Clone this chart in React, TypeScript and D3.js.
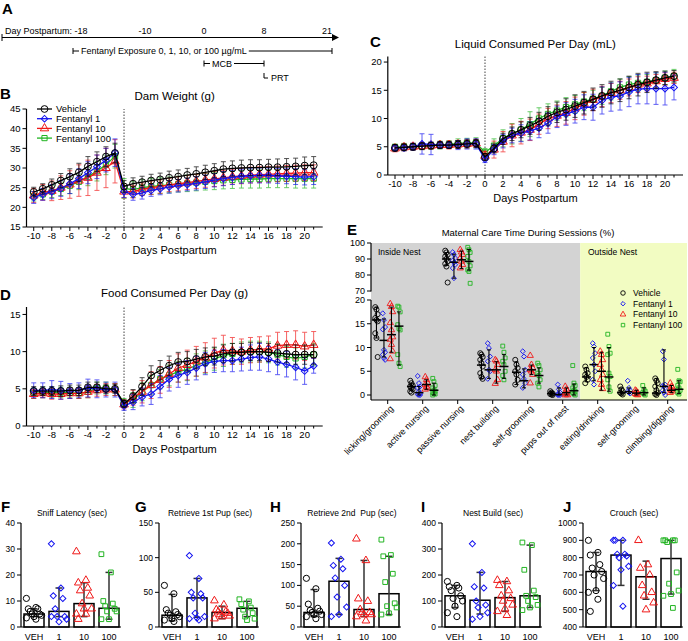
import React, { useLayoutEffect, useRef, useState } from 'react';
import * as d3 from 'd3';

const FONT = '"Liberation Sans", Arial, Helvetica, sans-serif';

// ---------- shared ----------
const groups = ['Vehicle', 'Fentanyl 1', 'Fentanyl 10', 'Fentanyl 100'];
const groupColors = ['#000000', '#1414f0', '#f01818', '#22b422'];
// diamond is drawn as a square rotated by 45 degrees
const groupSymbols = [d3.symbolCircle, d3.symbolSquare, d3.symbolTriangle, d3.symbolSquare];

// ---------- A: timeline ----------
const timelineDays = [-18, -10, 0, 8, 21];

// ---------- B, C, D: time courses ----------
const preDays = [-10, -9, -8, -7, -6, -5, -4, -3, -2, -1];
const postDays = [0, 1, 2, 3, 4, 5, 6, 7, 8, 9, 10, 11, 12, 13, 14, 15, 16, 17, 18, 19, 20, 21];
const days = [...preDays, ...postDays];
const dayTickLabels = [-10, -8, -6, -4, -2, 0, 2, 4, 6, 8, 10, 12, 14, 16, 18, 20];

const weightVehicle = [23.9, 24.7, 25.7, 26.8, 27.8, 28.9, 30.4, 31.6, 32.9, 33.8, 25.3, 26.0, 26.4, 26.8, 27.1, 27.5, 27.8, 28.2, 28.5, 28.9, 29.3, 29.7, 29.9, 30.0, 30.1, 30.1, 30.2, 30.2, 30.3, 30.4, 30.6, 30.7];
const weightFent1 = [22.5, 23.3, 24.0, 24.8, 26.0, 27.3, 28.8, 30.3, 32.0, 33.9, 24.0, 23.3, 23.6, 24.3, 24.7, 25.2, 25.5, 25.8, 26.1, 26.5, 26.9, 27.3, 27.6, 27.9, 28.0, 28.1, 28.1, 28.0, 27.9, 27.8, 27.7, 27.8];
const weightFent10 = [23.0, 23.8, 24.2, 25.0, 25.8, 26.8, 27.5, 28.8, 30.0, 31.7, 24.0, 24.0, 24.6, 25.0, 25.3, 25.7, 26.0, 26.3, 26.6, 26.9, 27.2, 27.5, 27.8, 28.0, 28.2, 28.3, 28.4, 28.5, 28.6, 28.7, 28.8, 28.8];
const weightFent100 = [22.8, 23.3, 24.0, 24.7, 25.5, 26.5, 27.8, 29.2, 30.8, 33.0, 24.8, 24.5, 25.0, 25.3, 25.5, 25.7, 25.9, 26.1, 26.3, 26.5, 26.7, 26.9, 27.0, 27.1, 27.2, 27.2, 27.3, 27.3, 27.3, 27.3, 27.3, 27.3];
const weightSdVehicle = [1.2, 1.3, 1.5, 1.8, 2.0, 2.3, 2.5, 2.5, 2.5, 2.5, 1.5, 1.5, 1.5, 1.6, 1.6, 1.7, 1.7, 1.7, 1.8, 1.8, 1.8, 1.9, 1.9, 2.0, 2.0, 2.0, 2.0, 2.1, 2.1, 2.1, 2.2, 2.2];
const weightSdFent1 = [1.5, 1.5, 1.8, 2.0, 2.5, 2.5, 2.8, 3.0, 3.0, 3.5, 1.5, 1.5, 1.5, 1.5, 1.5, 1.6, 1.6, 1.6, 1.7, 1.7, 1.7, 1.8, 1.8, 1.8, 1.8, 1.9, 1.9, 1.9, 1.9, 2.0, 2.0, 2.0];
const weightSdFent10 = [1.8, 2.0, 2.5, 3.0, 3.5, 4.0, 4.5, 4.5, 5.0, 5.5, 1.6, 1.6, 1.6, 1.7, 1.7, 1.7, 1.8, 1.8, 1.8, 1.8, 1.9, 1.9, 1.9, 2.0, 2.0, 2.0, 2.0, 2.0, 2.0, 2.0, 2.0, 2.0];
const weightSdFent100 = [1.2, 1.3, 1.5, 1.7, 2.0, 2.0, 2.3, 2.5, 2.5, 3.0, 2.5, 2.0, 2.0, 2.0, 2.0, 2.0, 2.0, 2.1, 2.1, 2.1, 2.2, 2.2, 2.2, 2.2, 2.3, 2.3, 2.3, 2.3, 2.3, 2.4, 2.4, 2.4];

const liquidVehicle = [4.8, 4.9, 5.0, 5.1, 5.2, 5.3, 5.3, 5.4, 5.5, 5.6, 3.2, 4.7, 6.4, 7.3, 8.0, 8.7, 9.5, 10.4, 11.1, 11.6, 12.2, 12.8, 13.4, 14.0, 14.6, 15.0, 15.5, 16.0, 16.4, 16.8, 17.2, 17.5];
const liquidFent1 = [4.8, 4.8, 5.0, 5.5, 5.4, 5.3, 5.3, 5.3, 5.5, 5.5, 2.8, 4.5, 6.0, 7.0, 7.4, 7.8, 8.3, 9.2, 10.3, 10.8, 11.3, 12.0, 12.0, 13.2, 13.8, 14.0, 14.7, 15.2, 15.3, 15.3, 15.3, 15.5];
const liquidFent10 = [4.7, 4.9, 5.0, 5.1, 5.2, 5.3, 5.3, 5.4, 5.5, 5.6, 3.4, 4.5, 5.9, 7.0, 7.5, 8.0, 9.0, 10.0, 10.5, 11.0, 11.8, 12.6, 13.3, 13.9, 14.5, 15.0, 15.5, 16.0, 16.2, 16.6, 17.0, 17.2];
const liquidFent100 = [4.9, 5.0, 5.0, 5.1, 5.2, 5.3, 5.4, 5.6, 5.7, 5.7, 4.0, 5.2, 6.5, 7.3, 8.0, 9.0, 10.0, 10.8, 11.4, 12.0, 12.5, 13.0, 13.5, 14.0, 14.8, 15.5, 16.0, 16.3, 16.5, 16.8, 17.2, 17.5];
const liquidSdVehicle = [0.6, 0.6, 0.6, 0.6, 0.6, 0.6, 0.6, 0.7, 0.7, 0.7, 0.6, 0.8, 1.0, 1.2, 1.4, 1.5, 1.6, 1.7, 1.8, 1.9, 2.0, 2.0, 2.0, 2.0, 2.0, 2.0, 2.0, 2.0, 1.8, 1.5, 1.2, 1.0];
const liquidSdFent1 = [0.5, 0.5, 0.6, 1.8, 1.8, 0.6, 0.6, 0.8, 0.9, 0.9, 0.6, 0.9, 1.2, 1.3, 1.5, 1.6, 1.7, 1.8, 1.9, 2.0, 2.1, 2.2, 2.3, 2.4, 2.5, 2.5, 2.6, 2.6, 2.7, 2.8, 2.9, 2.2];
const liquidSdFent10 = [0.6, 0.6, 0.6, 0.6, 0.6, 0.6, 0.7, 0.7, 0.7, 0.7, 0.8, 1.5, 1.8, 2.0, 2.0, 1.9, 1.8, 1.8, 1.9, 2.0, 2.0, 2.0, 1.9, 1.8, 1.7, 1.6, 1.5, 1.4, 1.3, 1.2, 1.1, 1.0];
const liquidSdFent100 = [0.6, 0.6, 0.6, 0.6, 0.6, 0.7, 0.7, 0.8, 0.8, 0.9, 0.7, 1.2, 1.5, 1.8, 2.0, 2.2, 1.9, 1.8, 1.7, 1.7, 1.6, 1.6, 1.5, 1.5, 1.5, 1.5, 1.4, 1.4, 1.3, 1.3, 1.2, 1.2];

const foodVehicle = [4.7, 4.7, 4.7, 4.7, 4.8, 4.8, 5.2, 5.2, 5.0, 5.0, 3.0, 4.0, 5.3, 6.8, 7.5, 8.1, 8.6, 8.7, 9.0, 9.3, 9.4, 9.7, 9.9, 9.9, 10.0, 10.0, 9.9, 9.8, 9.7, 9.6, 9.6, 9.6];
const foodFent1 = [4.8, 4.8, 4.9, 4.8, 4.7, 4.8, 5.1, 5.0, 4.9, 4.9, 2.7, 3.2, 3.9, 4.3, 5.3, 6.3, 6.8, 7.2, 7.8, 8.4, 8.7, 8.8, 8.8, 9.0, 9.2, 9.3, 9.0, 8.6, 8.3, 7.9, 7.4, 8.1];
const foodFent10 = [4.3, 4.4, 4.3, 4.3, 4.4, 4.4, 4.6, 4.8, 4.9, 4.9, 2.9, 3.8, 4.6, 5.5, 6.2, 7.0, 7.8, 8.2, 8.7, 9.2, 9.8, 10.2, 10.1, 10.0, 10.2, 10.3, 10.4, 10.8, 10.9, 10.9, 10.7, 10.9];
const foodFent100 = [4.4, 4.5, 4.5, 4.5, 4.5, 4.4, 4.6, 5.1, 5.1, 4.9, 3.1, 3.5, 4.6, 5.5, 6.3, 6.8, 7.3, 7.6, 8.2, 8.6, 9.0, 9.5, 9.7, 9.9, 10.0, 10.0, 9.9, 9.6, 9.3, 9.1, 9.3, 9.6];
const foodSdVehicle = [0.6, 0.6, 0.6, 0.7, 0.7, 0.7, 0.7, 0.7, 0.6, 0.6, 0.5, 0.9, 1.2, 1.3, 1.3, 1.3, 1.3, 1.3, 1.3, 1.2, 1.2, 1.2, 1.2, 1.2, 1.2, 1.2, 1.2, 1.2, 1.2, 1.3, 1.3, 1.3];
const foodSdFent1 = [1.0, 1.0, 1.2, 1.2, 1.0, 1.0, 1.2, 1.2, 1.0, 1.0, 0.6, 1.0, 1.2, 1.4, 1.5, 1.6, 1.6, 1.6, 1.6, 1.5, 1.5, 1.5, 1.5, 1.6, 1.7, 1.8, 1.7, 1.7, 1.7, 1.7, 1.8, 1.0];
const foodSdFent10 = [0.6, 0.6, 0.7, 0.7, 0.7, 0.7, 0.8, 0.8, 0.8, 0.8, 0.6, 1.0, 1.5, 1.8, 1.8, 1.8, 1.9, 2.0, 2.0, 2.0, 2.0, 2.0, 1.8, 1.7, 1.7, 1.7, 1.7, 1.8, 1.8, 1.9, 1.9, 1.8];
const foodSdFent100 = [0.7, 0.7, 0.7, 0.7, 0.7, 0.7, 0.8, 0.8, 0.8, 0.8, 0.6, 1.0, 1.2, 1.3, 1.3, 1.4, 1.4, 1.5, 1.5, 1.5, 1.5, 1.5, 1.4, 1.4, 1.4, 1.4, 1.4, 1.4, 1.4, 1.4, 1.5, 1.5];

// ---------- E: maternal care ----------
const careCategories = ['licking/grooming', 'active nursing', 'passive nursing', 'nest building', 'self-grooming', 'pups out of nest', 'eating/drinking', 'self-grooming', 'climbing/digging'];
const careVehiclePoints = [
  [18.5, 18, 17, 16.2, 15.8, 15.5, 13, 12, 8],
  [3, 2.5, 2, 1.8, 1.5, 1.2, 0.8, 0.5],
  [95.2, 94.1, 92.7, 91.6, 90, 88.5, 87, 85.3, 75.3],
  [8.8, 8.5, 8, 7.4, 6.7, 6, 4.6, 3.8, 3.4],
  [7.4, 6.4, 5.7, 5, 4.3, 3.2, 2.2],
  [0.8, 0.5, 0.3, 0.2, 0.1, 0],
  [6, 5.3, 4.6, 4.3, 3.8, 3.2, 2.5],
  [1.8, 1.2, 0.8, 0.5, 0.3, 0.1],
  [3.5, 3, 2.5, 1.8, 1, 0.5, 0.2, 0],
];
const careVehicleStats = [[15.8, 12, 18.5], [1.8, 1, 2.5], [90, 86, 94], [6.3, 3.5, 8.5], [4.8, 2.2, 7], [0.3, 0, 0.8], [3.8, 2.8, 5.8], [0.5, 0, 1.5], [0.4, 0, 3.5]];
const careFent1Points = [
  [17.2, 15.8, 14.3, 13.8, 9.5, 9, 8.5, 7.8, 7.4],
  [4, 2.5, 1.8, 1.5, 0.8, 0.3, 0.1, 0, 0],
  [94.3, 92.7, 90.6, 89.1, 87.8, 86.4, 84.3, 78],
  [10.9, 9.9, 8.1, 7.1, 5.3, 5, 3.4],
  [9.2, 8.1, 5.3, 4.3, 3.4, 2.5, 1.5],
  [2.2, 1.2, 0.5, 0.2, 0, 0, 0],
  [10.9, 10.2, 8.8, 7.8, 6.4, 5, 3.2, 2.2],
  [3, 1.5, 1, 0.8, 0.5, 0.3],
  [9.2, 7.5, 2.2, 2, 1.8, 1.5, 1, 0.5, 0],
];
const careFent1Stats = [[11.5, 8, 16], [0.5, 0, 1.8], [88, 78, 93], [5.3, 3.5, 9.5], [3, 1.5, 5.5], [0.1, 0, 1.5], [6.4, 3, 10], [0.7, 0.3, 1.5], [1.8, 0.5, 9.5]];
const careFent10Points = [
  [19.2, 18.6, 17.5, 15.2, 13.7, 12.2, 11.7, 10.6, 9.2, 7.6],
  [3.8, 3.2, 2.5, 2.2, 1.8, 1.5, 1.2],
  [95.8, 94.3, 92.7, 90.6, 88.5, 86.4, 84.3],
  [7.4, 7.1, 6.4, 5.3, 5, 3.2, 2.4],
  [8.3, 6.4, 5.7, 5.3, 5, 4.3, 2.5],
  [1.8, 1.2, 0.8, 0.5, 0.2, 0, 0],
  [9.2, 8.5, 7.4, 6.4, 5.3, 4.3, 3.2, 2.2, 1.3],
  [1, 0.8, 0.5, 0.3, 0.1, 0],
  [2.5, 1.8, 1.5, 1.2, 1, 0.8, 0.5],
];
const careFent10Stats = [[12.7, 9, 18.5], [2.2, 1.2, 3.2], [89.5, 84, 95], [5.3, 2.5, 7], [5.3, 4.3, 6.3], [0.5, 0, 1.5], [5, 1, 9], [0.4, 0, 1], [1, 0.5, 2]];
const careFent100Points = [
  [18.7, 18.5, 17.5, 14.8, 14, 13.7, 8.5, 6.7, 6],
  [3.5, 2.8, 2, 1.5, 1, 0.8, 0.5, 0.3, 0.2, 0],
  [97.3, 95.8, 94.1, 91.6, 88.5, 85.7, 83.2, 82.2, 74.8],
  [10.3, 9, 7.8, 7.1, 6.4, 5, 4.1, 3.2],
  [6.7, 6.2, 5.3, 4.6, 4.1, 3.2, 2.5, 1.7],
  [6.2, 2.5, 2, 1.5, 1, 0.8, 0.5, 0.2, 0],
  [12.8, 10.2, 8.8, 8.5, 4.6, 3.9, 3.2, 1.7, 0.8],
  [2, 1.2, 0.8, 0.5, 0.2, 0],
  [5.4, 3, 2.8, 2, 1.5, 1, 0.5, 0.2],
];
const careFent100Stats = [[14.5, 6.3, 17.5], [1, 0, 2.5], [88.5, 83, 96], [6, 3.5, 8.5], [4.1, 2.5, 5.7], [0.9, 0, 2.3], [3.8, 0.8, 10], [0.5, 0, 1.5], [1.2, 0.3, 3]];
const careLowTicks = [0, 5, 10, 15, 20];
const careHighTicks = [70, 80, 90, 100];

// ---------- F-J: behaviour ----------
const behaviorGroups = ['VEH', '1', '10', '100'];
const sniffPoints = [
  [11, 7.5, 7, 7, 6, 5, 5, 4.5, 4, 3.5, 3],
  [32, 15, 12, 11, 7, 4, 4, 3, 2, 4],
  [29, 18, 17, 15, 14, 12, 9, 7, 7, 5, 5, 3],
  [28, 21, 10, 9, 8, 7, 6, 6, 3, 3],
];
const sniffStats = [[5, 4, 7], [6, 4, 15], [9, 4, 17], [7.2, 3, 21]];
const retrieve1Points = [
  [60, 48, 25, 22, 20, 18, 17, 15, 12, 10, 8],
  [103, 70, 50, 48, 42, 42, 20, 15, 13, 12, 10],
  [38, 32, 25, 22, 22, 20, 18, 16, 15, 12],
  [40, 37, 33, 28, 25, 20, 15, 12, 10],
];
const retrieve1Stats = [[17, 9, 47], [42, 14, 70], [21, 12, 30], [27, 15, 37]];
const retrieve2Points = [
  [117, 92, 55, 45, 40, 38, 35, 30, 30, 25, 20],
  [202, 163, 148, 140, 118, 100, 72, 48, 30, 25],
  [212, 160, 68, 62, 42, 35, 35, 30, 30, 25, 15],
  [210, 173, 170, 128, 108, 57, 50, 47, 33, 30],
];
const retrieve2Stats = [[35, 25, 90], [110, 30, 165], [42, 25, 160], [80, 30, 170]];
const nestPoints = [
  [175, 160, 155, 150, 140, 120, 110, 100, 80, 55, 40],
  [320, 210, 155, 150, 100, 85, 75, 55, 40, 30],
  [180, 175, 160, 140, 120, 110, 100, 85, 70, 60, 45],
  [325, 315, 220, 140, 120, 115, 100, 85, 75, 65],
];
const nestStats = [[120, 75, 160], [103, 50, 210], [113, 60, 175], [120, 75, 315]];
const crouchPoints = [
  [900, 830, 815, 760, 740, 720, 700, 680, 610, 600, 560, 490],
  [900, 900, 900, 820, 820, 810, 800, 750, 730, 640, 520],
  [900, 760, 740, 700, 640, 600, 580, 540, 500],
  [900, 900, 900, 900, 890, 715, 650, 610, 590, 580, 510],
];
const crouchStats = [[720, 610, 830], [815, 640, 900], [690, 560, 780], [795, 590, 900]];

// ================= components =================
const symbolSizeFactor = [1, 0.62, 0.85, 0.75];
function Marker({ gi, size, x, y, sw = 1 }: { gi: number; size: number; x: number; y: number; sw?: number }) {
  const d = d3.symbol().type(groupSymbols[gi]).size(size * symbolSizeFactor[gi])() as string;
  const rot = gi === 1 ? ' rotate(45)' : '';
  return <path d={d} transform={`translate(${x},${y})${rot}`} fill="none" stroke={groupColors[gi]} strokeWidth={sw} />;
}

function Bracket({ x1, x2, y, label }: { x1: number; x2: number; y: number; label: string }) {
  const ref = useRef<SVGTextElement>(null);
  const [w, setW] = useState(0);
  useLayoutEffect(() => {
    if (ref.current) setW(ref.current.getComputedTextLength());
  }, []);
  const tx = x1 + 8;
  return (
    <g stroke="#000" strokeWidth={1}>
      <line x1={x1} x2={x1} y1={y - 3} y2={y + 3} />
      <line x1={x1} x2={x1 + 6} y1={y} y2={y} />
      <text ref={ref} x={tx} y={y + 3.2} fontSize={9} stroke="none" fill="#000">{label}</text>
      {w > 0 && <line x1={tx + w + 2} x2={x2} y1={y} y2={y} />}
      <line x1={x2} x2={x2} y1={y - 3} y2={y + 3} />
    </g>
  );
}

function Timeline() {
  const x = d3.scaleLinear().domain(timelineDays).range([73, 145, 204, 264, 332]);
  const ym = 37.5;
  return (
    <g>
      <text x={2} y={14} fontSize={15} fontWeight="bold">A</text>
      <line x1={2} x2={x(21) + 1} y1={ym} y2={ym} stroke="#000" strokeWidth={1} />
      <line x1={2} x2={2} y1={ym - 3.5} y2={ym + 3.5} stroke="#000" />
      <path d={`M${x(21)},${ym - 3.5}L${x(21) + 7},${ym}L${x(21)},${ym + 3.5}Z`} fill="#000" />
      <text x={5} y={34.3} fontSize={9}>Day Postpartum: -18</text>
      {timelineDays.slice(1).map((d) => (
        <text key={d} x={x(d)} y={34.3} fontSize={9} textAnchor={d === 21 ? 'end' : 'middle'}>{d}</text>
      ))}
      <Bracket x1={x(-18)} x2={x(21)} y={51} label="Fentanyl Exposure 0, 1, 10, or 100 µg/mL" />
      <Bracket x1={x(0)} x2={x(8)} y={63.5} label="MCB" />
      <path d={`M${x(8)},73V78H${x(8) + 4}`} fill="none" stroke="#000" />
      <text x={x(8) + 7} y={81} fontSize={9}>PRT</text>
    </g>
  );
}

type TSProps = {
  xRange: [number, number];
  yDomain: [number, number];
  yRange: [number, number];
  yTicks: number[];
  values: number[][];
  sds: number[][];
  title: string;
  titleY: number;
  letter: string;
  letterX: number;
  letterY: number;
  legend?: boolean;
};

function TimeSeries(p: TSProps) {
  const x = d3.scaleLinear().domain([-10.8, 22]).range(p.xRange);
  const y = d3.scaleLinear().domain(p.yDomain).range(p.yRange);
  const [yb, yt] = p.yRange;
  const x0 = p.xRange[0];
  const cx = (p.xRange[0] + p.xRange[1]) / 2;
  const line = d3.line<number>().x((_, i) => x(days[i])).y((v) => y(v));
  const order = [3, 2, 1, 0];
  return (
    <g>
      <text x={p.letterX} y={p.letterY} fontSize={15} fontWeight="bold">{p.letter}</text>
      <text x={cx} y={p.titleY} fontSize={11.5} textAnchor="middle">{p.title}</text>
      <line x1={x0} x2={x0} y1={yb} y2={yt} stroke="#000" strokeWidth={1.2} />
      {p.yTicks.map((t) => (
        <g key={t}>
          <line x1={x0 - 4} x2={x0} y1={y(t)} y2={y(t)} stroke="#000" />
          <text x={x0 - 6} y={y(t) + 3.3} fontSize={9.5} textAnchor="end">{t}</text>
        </g>
      ))}
      <line x1={x0} x2={p.xRange[1]} y1={yb} y2={yb} stroke="#000" strokeWidth={1.2} />
      {days.map((d) => (
        <line key={d} x1={x(d)} x2={x(d)} y1={yb} y2={yb + (d % 2 === 0 ? 4 : 2.5)} stroke="#000" />
      ))}
      {dayTickLabels.map((d) => (
        <text key={d} x={x(d)} y={yb + 12} fontSize={9.5} textAnchor="middle">{d}</text>
      ))}
      <text x={cx} y={yb + 27} fontSize={11} textAnchor="middle">Days Postpartum</text>
      <line x1={x(0)} x2={x(0)} y1={yb} y2={yt} stroke="#555" strokeWidth={1.1} strokeDasharray="1.5,1.5" />
      {order.map((gi) => {
        const vals = p.values[gi];
        const sd = p.sds[gi];
        const c = groupColors[gi];
        return (
          <g key={gi}>
            <g stroke={c} strokeWidth={0.9} opacity={0.75}>
              {vals.map((v, i) => {
                const xx = x(days[i]);
                const y1 = y(v - sd[i]);
                const y2 = y(v + sd[i]);
                return (
                  <g key={i}>
                    <line x1={xx} x2={xx} y1={y1} y2={y2} />
                    <line x1={xx - 2.5} x2={xx + 2.5} y1={y1} y2={y1} />
                    <line x1={xx - 2.5} x2={xx + 2.5} y1={y2} y2={y2} />
                  </g>
                );
              })}
            </g>
            <path d={line(vals) as string} fill="none" stroke={c} strokeWidth={1.3} />
            {vals.map((v, i) => (
              <Marker key={i} gi={gi} size={38} x={x(days[i])} y={y(v)} />
            ))}
          </g>
        );
      })}
      {p.legend &&
        groups.map((g, gi) => {
          const ly = 109 + gi * 9.7;
          return (
            <g key={g}>
              <line x1={37} x2={52} y1={ly} y2={ly} stroke={groupColors[gi]} strokeWidth={1.3} />
              <Marker gi={gi} size={36} x={44.5} y={ly} />
              <text x={56} y={ly + 3.4} fontSize={9.5}>{g}</text>
            </g>
          );
        })}
    </g>
  );
}

function CarePanel() {
  const x = d3.scaleBand<number>().domain(d3.range(careCategories.length)).range([370.2, 685.2]);
  const gx = d3.scaleBand<number>().domain(d3.range(4)).range([-15, 15]);
  const yLow = d3.scaleLinear().domain([-1.05, 20]).range([400, 300]);
  const yHigh = d3.scaleLinear().domain([70, 100]).range([291, 243]);
  const yv = (v: number) => (v >= 50 ? yHigh(v) : yLow(v));
  const pts = [careVehiclePoints, careFent1Points, careFent10Points, careFent100Points];
  const stats = [careVehicleStats, careFent1Stats, careFent10Stats, careFent100Stats];
  const ax = 371;
  const split = x(6) as number;
  const bw = x.bandwidth();
  return (
    <g>
      <text x={347} y={235} fontSize={15} fontWeight="bold">E</text>
      <text x={528} y={235.5} fontSize={9.5} textAnchor="middle">Maternal Care Time During Sessions (%)</text>
      <rect x={ax} y={243} width={split - ax} height={157} fill="#d3d3d3" />
      <rect x={split} y={243} width={687 - split} height={157} fill="#f2fcc2" />
      <text x={378} y={255} fontSize={8.5}>Inside Nest</text>
      <text x={588} y={255} fontSize={8.5}>Outside Nest</text>
      <line x1={ax} x2={ax} y1={yHigh(70) + 0.5} y2={yHigh(100)} stroke="#000" strokeWidth={1.2} />
      <line x1={ax} x2={ax} y1={400} y2={yLow(20)} stroke="#000" strokeWidth={1.2} />
      {careHighTicks.map((t) => (
        <g key={t}>
          <line x1={ax - 4} x2={ax} y1={yHigh(t)} y2={yHigh(t)} stroke="#000" />
          <text x={ax - 6} y={yHigh(t) + 3.2} fontSize={9} textAnchor="end">{t}</text>
        </g>
      ))}
      {careLowTicks.map((t) => (
        <g key={t}>
          <line x1={ax - 4} x2={ax} y1={yLow(t)} y2={yLow(t)} stroke="#000" />
          <text x={ax - 6} y={yLow(t) + 3.2} fontSize={9} textAnchor="end">{t}</text>
        </g>
      ))}
      <line x1={ax} x2={687} y1={400} y2={400} stroke="#000" strokeWidth={1.2} />
      {careCategories.map((c, ci) => {
        const cx = (x(ci) as number) + bw / 2;
        return (
          <g key={ci}>
            <line x1={cx} x2={cx} y1={400} y2={404} stroke="#000" />
            <text transform={`translate(${cx + 4},${407}) rotate(-45)`} fontSize={9} textAnchor="end" dy="0.35em">{c}</text>
          </g>
        );
      })}
      {careCategories.map((_, ci) => {
        const cx = (x(ci) as number) + bw / 2;
        return (
          <g key={ci}>
            {[0, 1, 2, 3].map((gi) => {
              const gxx = cx + (gx(gi) as number) + gx.bandwidth() / 2;
              const [med, lo, hi] = stats[gi][ci];
              return (
                <g key={gi}>
                  {pts[gi][ci].map((v, i) => (
                    <Marker key={i} gi={gi} size={20} x={gxx + ((i % 3) - 1) * 1.2} y={yv(v)} sw={0.9} />
                  ))}
                  <g stroke="#000">
                    <line x1={gxx} x2={gxx} y1={yv(lo)} y2={yv(hi)} strokeWidth={1.1} />
                    <line x1={gxx - 2} x2={gxx + 2} y1={yv(lo)} y2={yv(lo)} strokeWidth={1} />
                    <line x1={gxx - 2} x2={gxx + 2} y1={yv(hi)} y2={yv(hi)} strokeWidth={1} />
                    <line x1={gxx - 4.5} x2={gxx + 4.5} y1={yv(med)} y2={yv(med)} strokeWidth={1.5} />
                  </g>
                </g>
              );
            })}
          </g>
        );
      })}
      {groups.map((g, gi) => {
        const ly = 293 + gi * 10.7;
        return (
          <g key={g}>
            <Marker gi={gi} size={16} x={623} y={ly} sw={0.9} />
            <text x={633} y={ly + 3} fontSize={8.5}>{g}</text>
          </g>
        );
      })}
    </g>
  );
}

type BarProps = {
  axisX: number;
  domain: [number, number];
  ticks: number[];
  title: string;
  letter: string;
  letterX: number;
  points: number[][];
  stats: number[][];
};

function BarPanel(p: BarProps) {
  const y = d3.scaleLinear().domain(p.domain).range([627, 523]);
  const x = d3.scalePoint<string>().domain(behaviorGroups).range([p.axisX + 13, p.axisX + 88]);
  const bw = 20;
  const jit = (i: number) => (((i * 5) % 9) - 4) * 1.9;
  return (
    <g>
      <text x={p.letterX} y={512} fontSize={15} fontWeight="bold">{p.letter}</text>
      <text x={p.axisX + 51} y={516} fontSize={8.5} textAnchor="middle" style={{ whiteSpace: 'pre' }}>{p.title}</text>
      {behaviorGroups.map((g, gi) => {
        const cx = x(g) as number;
        const [bar, lo, hi] = p.stats[gi];
        return (
          <g key={g}>
            <rect x={cx - bw / 2} y={y(bar)} width={bw} height={627 - y(bar)} fill="#fff" stroke="#000" strokeWidth={1.5} />
            <g stroke="#333" strokeWidth={1.5}>
              <line x1={cx} x2={cx} y1={y(lo)} y2={y(hi)} />
              <line x1={cx - 3.5} x2={cx + 3.5} y1={y(lo)} y2={y(lo)} />
              <line x1={cx - 3.5} x2={cx + 3.5} y1={y(hi)} y2={y(hi)} />
            </g>
            {p.points[gi].map((v, i) => (
              <Marker key={i} gi={gi} size={30} x={cx + jit(i)} y={y(v)} />
            ))}
            <text x={cx} y={640} fontSize={9} textAnchor="middle">{g}</text>
          </g>
        );
      })}
      <line x1={p.axisX} x2={p.axisX} y1={627} y2={523} stroke="#000" strokeWidth={1.2} />
      {p.ticks.map((t) => (
        <g key={t}>
          <line x1={p.axisX - 4} x2={p.axisX} y1={y(t)} y2={y(t)} stroke="#000" />
          <text x={p.axisX - 6} y={y(t) + 3} fontSize={8.5} textAnchor="end">{t}</text>
        </g>
      ))}
      <line x1={p.axisX} x2={p.axisX + 100} y1={627} y2={627} stroke="#000" strokeWidth={1.2} />
    </g>
  );
}

export default function App() {
  return (
    <svg width={688} height={641} style={{ position: 'absolute', left: 0, top: 0, fontFamily: FONT }}>
      <rect width={688} height={641} fill="#fff" />
      <Timeline />
      <TimeSeries
        xRange={[26.5, 322.7]}
        yDomain={[15, 45]}
        yRange={[227, 109]}
        yTicks={[15, 20, 25, 30, 35, 40, 45]}
        values={[weightVehicle, weightFent1, weightFent10, weightFent100]}
        sds={[weightSdVehicle, weightSdFent1, weightSdFent10, weightSdFent100]}
        title="Dam Weight (g)"
        titleY={100}
        letter="B"
        letterX={0}
        letterY={99}
        legend
      />
      <TimeSeries
        xRange={[387.8, 683]}
        yDomain={[0, 21]}
        yRange={[175, 56.4]}
        yTicks={[0, 5, 10, 15, 20]}
        values={[liquidVehicle, liquidFent1, liquidFent10, liquidFent100]}
        sds={[liquidSdVehicle, liquidSdFent1, liquidSdFent10, liquidSdFent100]}
        title="Liquid Consumed Per Day (mL)"
        titleY={48}
        letter="C"
        letterX={370}
        letterY={47}
      />
      <TimeSeries
        xRange={[26.5, 322.7]}
        yDomain={[0, 16]}
        yRange={[426, 307]}
        yTicks={[0, 5, 10, 15]}
        values={[foodVehicle, foodFent1, foodFent10, foodFent100]}
        sds={[foodSdVehicle, foodSdFent1, foodSdFent10, foodSdFent100]}
        title="Food Consumed Per Day (g)"
        titleY={297}
        letter="D"
        letterX={0}
        letterY={300}
      />
      <CarePanel />
      <BarPanel axisX={21} domain={[0, 40]} ticks={[0, 10, 20, 30, 40]} title="Sniff Latency (sec)" letter="F" letterX={1} points={sniffPoints} stats={sniffStats} />
      <BarPanel axisX={159} domain={[0, 150]} ticks={[0, 50, 100, 150]} title="Retrieve 1st Pup (sec)" letter="G" letterX={135} points={retrieve1Points} stats={retrieve1Stats} />
      <BarPanel axisX={301} domain={[0, 250]} ticks={[0, 50, 100, 150, 200, 250]} title="Retrieve 2nd  Pup (sec)" letter="H" letterX={270} points={retrieve2Points} stats={retrieve2Stats} />
      <BarPanel axisX={442} domain={[0, 400]} ticks={[0, 100, 200, 300, 400]} title="Nest Build (sec)" letter="I" letterX={421} points={nestPoints} stats={nestStats} />
      <BarPanel axisX={583} domain={[400, 1000]} ticks={[400, 500, 600, 700, 800, 900, 1000]} title="Crouch (sec)" letter="J" letterX={563} points={crouchPoints} stats={crouchStats} />
    </svg>
  );
}
